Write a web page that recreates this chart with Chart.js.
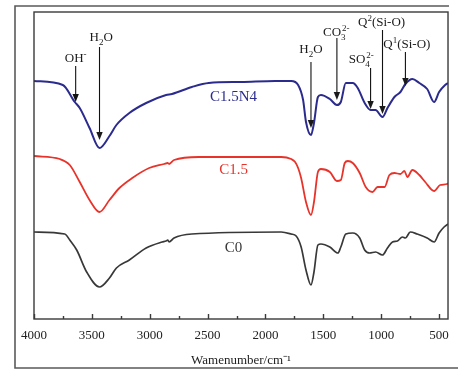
<!DOCTYPE html>
<html><head><meta charset="utf-8">
<script src="https://cdn.jsdelivr.net/npm/chart.js@4"></script>
<style>html,body{margin:0;padding:0;background:#fff;}canvas{display:block;}</style>
</head><body>
<canvas id="c" width="458" height="372"></canvas>
<script>
// ---- data (wavenumber in cm-1, transmittance in arbitrary units) ----
const wnC15N4 = [4000,3751,3648,3605,3520,3434,3348,3288,3176,3031,2859,2808,2636,2490,2207,1915,1778,1718,1675,1650,1607,1581,1547,1521,1444,1383,1349,1306,1246,1203,1143,1092,1049,989,946,886,834,791,731,671,603,543,500,448,423];
const tC15N4  = [238,234,217,211,191,171,183,194,206,216,224,225,232,236,237,238,238,234,219,197,184,196,222,224,220,214,217,236,236,231,216,209,209,202,211,222,227,235,240,236,230,217,227,234,236];
const wnC15 = [4000,3777,3691,3605,3520,3434,3348,3262,3151,3005,2876,2845,2833,2790,2576,1864,1778,1744,1718,1692,1650,1607,1581,1547,1521,1444,1383,1349,1315,1289,1246,1186,1134,1075,1032,971,929,886,834,800,774,731,671,620,543,491,431,423];
const tC15  = [163,160,154,137,119,107,119,131,141,151,155,156,155,159,162,162,160,157,151,141,117,104,117,147,150,147,138,139,156,158,156,146,132,127,132,132,144,146,145,148,142,149,144,137,128,134,135,136];
const wnC0 = [4000,3734,3691,3631,3545,3434,3348,3288,3176,3031,2893,2859,2845,2833,2790,2636,1864,1778,1735,1692,1650,1607,1581,1547,1521,1444,1374,1349,1306,1246,1186,1143,1100,1049,989,946,903,860,817,791,749,689,603,543,500,457,423];
const tC0  = [87,85,79,69,47,32,41,51,59,71,77,78,79,77,81,85,87,85,83,72,49,34,47,74,75,72,66,72,85,86,81,69,66,67,64,71,77,78,82,81,87,85,81,77,86,92,95];
const seriesNames = ['C1.5N4','C1.5','C0'];
const tickValues = [4000,3500,3000,2500,2000,1500,1000,500];

// ---- annotations (peak arrows) ----
const peakLabels = ['OH^-','H_2O','H_2O','CO_3^{2-}','SO_4^{2-}','Q^2(Si-O)','Q^1(Si-O)'];
const peakWn     = [3640,3434,1607,1383,1092,989,791];
const arrowFrom  = [253,272,257,281,251,289,267];
const arrowTo    = [217,179,191,219,210,205,233];
const labelWn    = [3640,3420,1607,1388,1173,997,779];
const labelT     = [257,278,266,283,256,293,271];

const colors = ['#2b2b8e','#e8332a','#383838'];
const nameWn = [2276,2276,2276];
const nameT  = [218,145,67];

function mk(wn,t){return wn.map((w,i)=>({x:w,y:t[i]}));}

function parseRich(s){
  const parts=[];let i=0;
  while(i<s.length){
    let c=s[i];
    if(c==='_'||c==='^'){
      let mode=c==='_'?'sub':'sup';i++;let txt='';
      if(s[i]==='{'){i++;while(s[i]!=='}'){txt+=s[i];i++;}i++;}else{txt=s[i];i++;}
      parts.push({t:txt,m:mode});
    } else {
      let txt='';while(i<s.length&&s[i]!=='_'&&s[i]!=='^'){txt+=s[i];i++;}
      parts.push({t:txt,m:'n'});
    }
  }
  return parts;
}
const FONT='"Liberation Serif","Times New Roman",serif';
function richLayout(ctx,parts,size){
  let x=0;const items=[];let lastSubStart=null,lastSubW=0;
  parts.forEach((p,k)=>{
    const fs=p.m==='n'?size:Math.round(size*0.68);
    ctx.font=fs+'px '+FONT;
    const w=ctx.measureText(p.t).width;
    let px=x;
    if(p.m==='sup'&&k>0&&parts[k-1].m==='sub'){px=lastSubStart+1;x=lastSubStart+1+Math.max(w,lastSubW);}
    else {x+=w;}
    if(p.m==='sub'){lastSubStart=px;lastSubW=w;}
    const dy=p.m==='sub'?size*0.28:(p.m==='sup'?-size*0.42:0);
    items.push({t:p.t,fs,x:px,dy});
  });
  return {items,width:x};
}
function drawRich(ctx,s,cx,by,size,color){
  const L=richLayout(ctx,parseRich(s),size);
  const x0=cx-L.width/2;
  ctx.fillStyle=color;ctx.textBaseline='alphabetic';ctx.textAlign='left';
  L.items.forEach(it=>{ctx.font=it.fs+'px '+FONT;ctx.fillText(it.t,x0+it.x,by+it.dy);});
}

const decor={
  id:'decor',
  beforeDraw(chart){const c=chart.ctx;c.save();c.fillStyle='#fff';c.fillRect(0,0,chart.width,chart.height);c.restore();},
  afterDraw(chart){
    const c=chart.ctx, a=chart.chartArea, xs=chart.scales.x, ys=chart.scales.y;
    c.save();
    // outer frame
    c.strokeStyle='#5a5a5a';c.lineWidth=1.6;
    c.beginPath();c.moveTo(449,6);c.lineTo(15,6);c.lineTo(15,368);c.lineTo(460,368);c.stroke();
    // plot box
    c.strokeStyle='#3a3a3a';c.lineWidth=1.4;
    c.strokeRect(a.left,a.top,a.right-a.left,a.bottom-a.top);
    // inward ticks
    c.beginPath();
    for(let v=4000;v>=xs.min;v-=250){
      const px=Math.round(xs.getPixelForValue(v))+0.5;
      const len=(v%500===0)?5:3;
      c.moveTo(px,a.bottom);c.lineTo(px,a.bottom-len);
    }
    c.stroke();
    // peak arrows
    c.strokeStyle='#111';c.fillStyle='#111';c.lineWidth=1.1;
    peakLabels.forEach((lab,i)=>{
      const px=xs.getPixelForValue(peakWn[i]);
      const y1=ys.getPixelForValue(arrowFrom[i]), y2=ys.getPixelForValue(arrowTo[i]);
      c.beginPath();c.moveTo(px,y1);c.lineTo(px,y2-6);c.stroke();
      c.beginPath();c.moveTo(px-3.2,y2-8);c.lineTo(px+3.2,y2-8);c.lineTo(px,y2);c.closePath();c.fill();
      drawRich(c,lab,xs.getPixelForValue(labelWn[i]),ys.getPixelForValue(labelT[i]),13,'#1a1a1a');
    });
    // series names
    seriesNames.forEach((n,i)=>{
      c.font='15px '+FONT;c.fillStyle=colors[i];c.textAlign='center';c.textBaseline='alphabetic';
      c.fillText(n,xs.getPixelForValue(nameWn[i]),ys.getPixelForValue(nameT[i]));
    });
    c.restore();
  }
};

new Chart(document.getElementById('c'),{
  type:'line',
  data:{datasets:[
    {label:seriesNames[0],data:mk(wnC15N4,tC15N4),borderColor:colors[0],borderWidth:2,pointRadius:0,cubicInterpolationMode:'monotone',fill:false},
    {label:seriesNames[1],data:mk(wnC15,tC15),borderColor:colors[1],borderWidth:1.8,pointRadius:0,cubicInterpolationMode:'monotone',fill:false},
    {label:seriesNames[2],data:mk(wnC0,tC0),borderColor:colors[2],borderWidth:1.7,pointRadius:0,cubicInterpolationMode:'monotone',fill:false}
  ]},
  options:{
    responsive:false,animation:false,devicePixelRatio:1,
    layout:{padding:{left:34,right:7,top:12,bottom:0}},
    plugins:{legend:{display:false},tooltip:{enabled:false}},
    scales:{
      x:{type:'linear',reverse:true,min:423,max:4000,
        afterBuildTicks(s){s.ticks=tickValues.map(v=>({value:v}));},
        afterFit(s){s.height=53;},
        grid:{display:false,drawTicks:false},border:{display:false},
        ticks:{padding:9,color:'#222',font:{family:FONT,size:13},autoSkip:false,maxRotation:0,callback:v=>String(v)},
        title:{display:true,text:'Wamenumber/cm⁻¹',color:'#222',font:{family:FONT,size:13},padding:{top:0,bottom:4}}
      },
      y:{display:false,min:0,max:307}
    }
  },
  plugins:[decor]
});
</script>
</body></html>
